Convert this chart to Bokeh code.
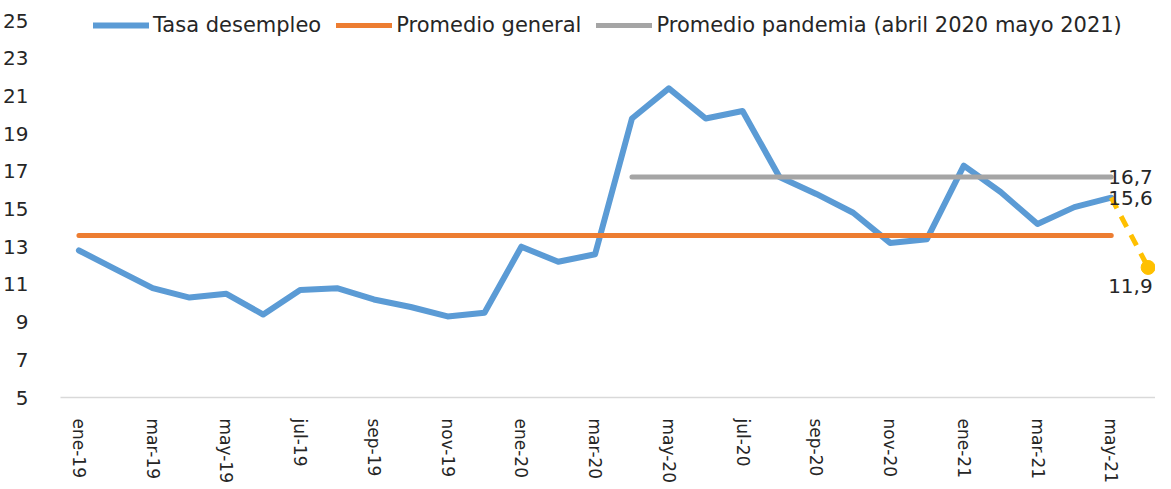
from bokeh.plotting import figure
from bokeh.models import FixedTicker, Legend, LegendItem, ColumnDataSource, Range1d
from bokeh.core.properties import value
from bokeh.embed import file_html
from bokeh.resources import INLINE

meses = ["ene-19", "feb-19", "mar-19", "abr-19", "may-19", "jun-19", "jul-19", "ago-19",
         "sep-19", "oct-19", "nov-19", "dic-19", "ene-20", "feb-20", "mar-20", "abr-20",
         "may-20", "jun-20", "jul-20", "ago-20", "sep-20", "oct-20", "nov-20", "dic-20",
         "ene-21", "feb-21", "mar-21", "abr-21", "may-21", "jun-21"]
tasa = [12.8, 11.8, 10.8, 10.3, 10.5, 9.4, 10.7, 10.8, 10.2, 9.8, 9.3, 9.5,
        13.0, 12.2, 12.6, 19.8, 21.4, 19.8, 20.2, 16.7, 15.8, 14.8, 13.2, 13.4,
        17.3, 15.9, 14.2, 15.1, 15.6]
promedio_general = 13.6
promedio_pandemia = 16.7
pandemia_inicio = "abr-20"
pronostico_meses = ["may-21", "jun-21"]
pronostico = [15.6, 11.9]
y_ticks = [5, 7, 9, 11, 13, 15, 17, 19, 21, 23, 25]

FONT = "DejaVu Sans"
TXT = "#262626"

idx = {m: i for i, m in enumerate(meses)}
x_tasa = list(range(len(tasa)))

p = figure(width=1155, height=486, output_backend="svg", toolbar_location=None,
           x_range=Range1d(-0.5, 29.2), y_range=Range1d(5, 25.69),
           min_border_left=55, min_border_right=0, min_border_top=7, min_border_bottom=60)
p.outline_line_color = None
p.grid.visible = False

r_tasa = p.line(x_tasa, tasa, line_color="#5B9BD5", line_width=6,
                line_join="round", line_cap="round")
r_gen = p.line(x_tasa, [promedio_general] * len(tasa), line_color="#ED7D31",
               line_width=5, line_cap="round")
xp = list(range(idx[pandemia_inicio], len(tasa)))
r_pan = p.line(xp, [promedio_pandemia] * len(xp), line_color="#A5A5A5",
               line_width=5, line_cap="round")
xf = [idx[m] for m in pronostico_meses]
p.line(xf, pronostico, line_color="#FFC000", line_width=5, line_dash="12 9")
p.scatter([xf[-1]], [pronostico[-1]], size=14, color="#FFC000")

def fmt(v):
    return f"{v:.1f}".replace(".", ",")

lbl = ColumnDataSource(dict(
    x=[xp[-1], len(tasa) - 1, xf[-1]],
    y=[promedio_pandemia, tasa[-1], pronostico[-1]],
    t=[fmt(promedio_pandemia), fmt(tasa[-1]), fmt(pronostico[-1])],
    xo=[-3, -3, -40],
    yo=[0, 0, 19],
))
p.text(x="x", y="y", text="t", x_offset="xo", y_offset="yo", source=lbl,
       text_font=value(FONT), text_font_size="20px", text_color=TXT,
       text_baseline="middle", text_align="left")

# axes
p.yaxis.ticker = FixedTicker(ticks=y_ticks)
p.yaxis.axis_line_color = None
p.yaxis.major_tick_line_color = None
p.yaxis.minor_tick_line_color = None
p.yaxis.major_label_standoff = 26
p.yaxis.major_label_text_font = FONT
p.yaxis.major_label_text_font_size = "20px"
p.yaxis.major_label_text_color = TXT

p.xaxis.ticker = FixedTicker(ticks=list(range(0, len(meses), 2)))
p.xaxis.major_label_overrides = {i: m for i, m in enumerate(meses)}
p.xaxis.major_label_orientation = "vertical"
p.xaxis.axis_line_color = "#D9D9D9"
p.xaxis.axis_line_width = 1.5
p.xaxis.major_tick_line_color = None
p.xaxis.minor_tick_line_color = None
p.xaxis.major_label_standoff = 15
p.xaxis.major_label_text_font = FONT
p.xaxis.major_label_text_font_size = "17px"
p.xaxis.major_label_text_color = TXT

legend = Legend(items=[
    LegendItem(label="Tasa desempleo", renderers=[r_tasa]),
    LegendItem(label="Promedio general", renderers=[r_gen]),
    LegendItem(label="Promedio pandemia (abril 2020 mayo 2021)", renderers=[r_pan]),
], orientation="horizontal", location=(33, 360), glyph_width=56, glyph_height=24,
    label_height=24, label_standoff=4, spacing=15, padding=0, margin=0,
    border_line_color=None, background_fill_alpha=0,
    label_text_font=FONT, label_text_font_size="21px", label_text_color=TXT)
p.add_layout(legend)

open("out.html", "w").write(file_html(p, INLINE))
